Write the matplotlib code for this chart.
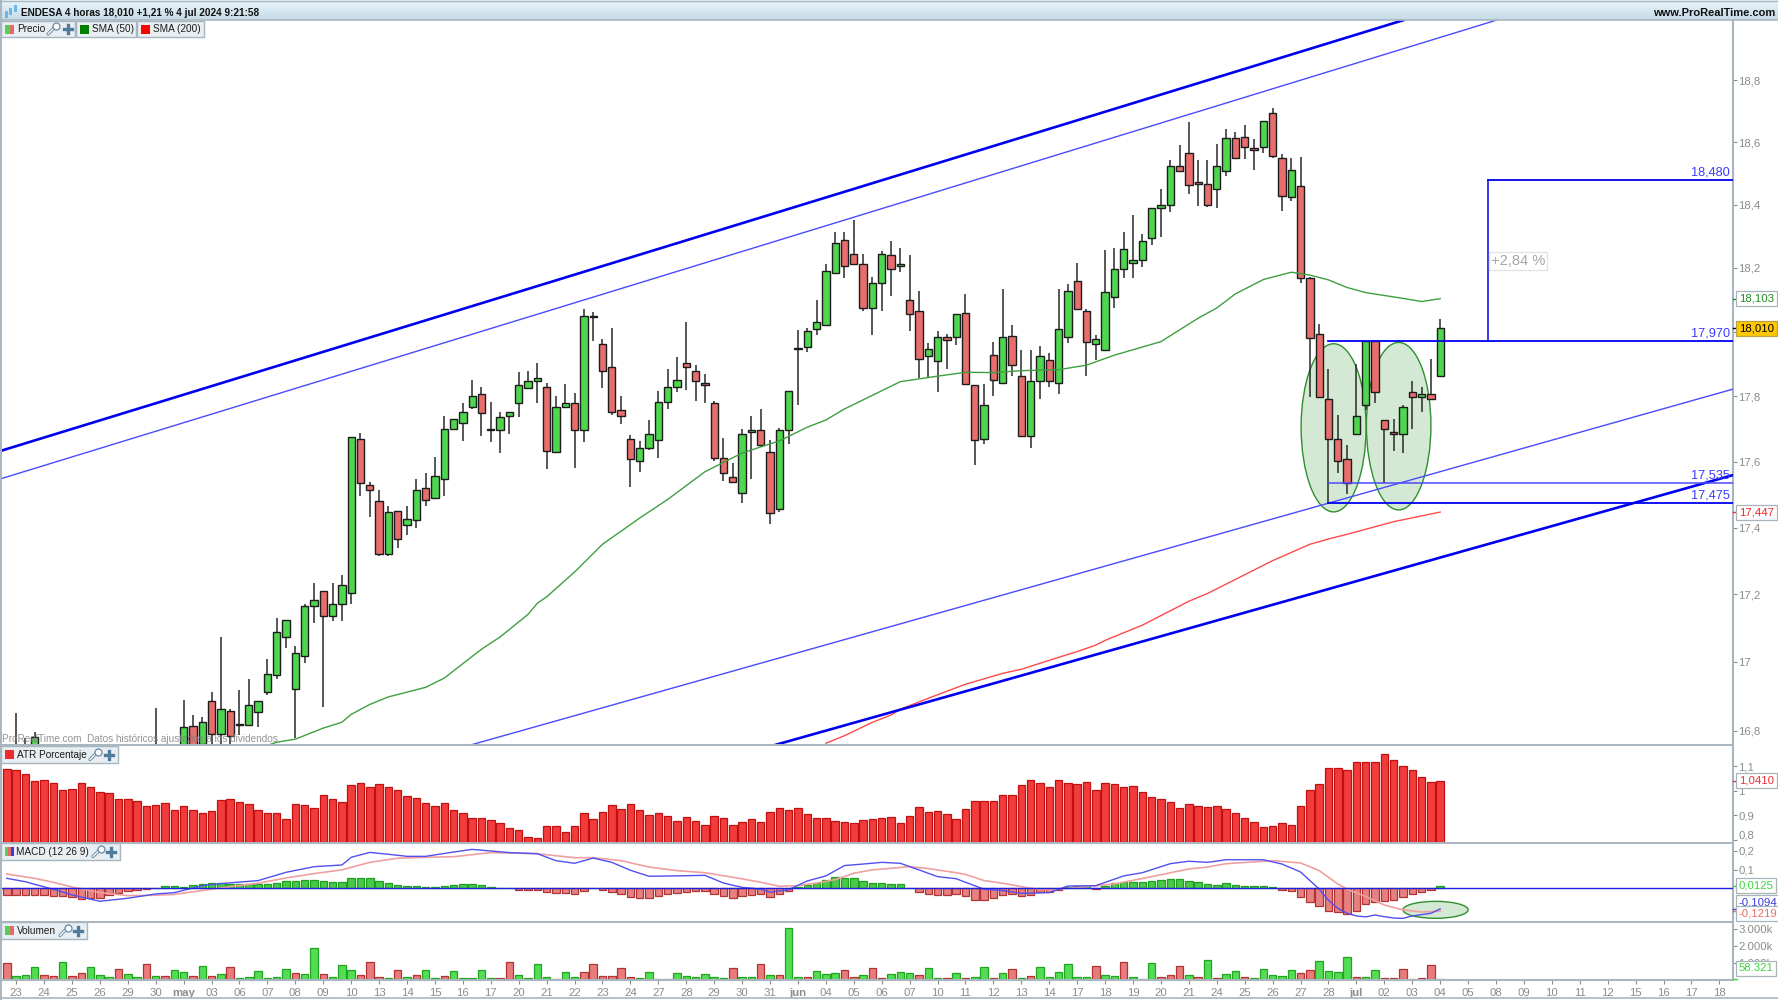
import numpy as np
import matplotlib
matplotlib.use('Agg')
import matplotlib.pyplot as plt
from matplotlib.patches import Ellipse, Rectangle
from matplotlib.ticker import NullLocator, NullFormatter

plt.rcParams['font.family'] = ['Liberation Sans', 'DejaVu Sans']

# candles, one per 4h bar (bars 0-18 sit below the visible range)
opens = [16.66, 16.60, 16.66, 16.70, 16.72, 16.66, 16.58, 16.70, 16.63, 16.56,
         16.66, 16.68, 16.69, 16.60, 16.64, 16.68, 16.55, 16.66, 16.60, 16.70,
         16.813, 16.76, 16.886, 16.791, 16.857, 16.82, 16.815, 16.855, 16.911, 16.961,
         17.073, 16.922, 17.018, 17.165, 17.209, 17.136, 17.173, 17.205, 17.670, 17.529,
         17.481, 17.321, 17.451, 17.409, 17.424, 17.521, 17.491, 17.548, 17.698, 17.718,
         17.766, 17.807, 17.70, 17.696, 17.738, 17.778, 17.825, 17.847, 17.829, 17.63,
         17.766, 17.778, 17.696, 18.045, 17.962, 17.889, 17.758, 17.67, 17.603, 17.642,
         17.665, 17.781, 17.83, 17.904, 17.879, 17.84, 17.778, 17.611, 17.554, 17.505,
         17.69, 17.696, 17.628, 17.456, 17.696, 17.945, 17.953, 18.008, 18.02, 18.183,
         18.287, 18.243, 18.211, 18.075, 18.153, 18.24, 18.205, 18.098, 18.065, 17.924,
         17.91, 17.983, 17.983, 18.059, 17.836, 17.67, 17.926, 17.842, 17.988, 17.863,
         17.679, 17.847, 17.913, 17.842, 17.983, 18.159, 18.065, 17.962, 17.942, 18.109,
         18.195, 18.214, 18.225, 18.293, 18.39, 18.399, 18.524, 18.564, 18.473, 18.467,
         18.449, 18.508, 18.614, 18.615, 18.58, 18.585, 18.693, 18.55, 18.425, 18.46,
         18.167, 17.993, 17.792, 17.668, 17.609, 17.683, 17.772, 17.97, 17.727, 17.69,
         17.683, 17.813, 17.799, 17.807, 17.862]
highs = [16.70, 16.85, 16.778, 16.796, 16.74, 16.70, 16.73, 16.72, 16.66, 16.70,
         16.72, 16.72, 16.71, 16.68, 16.70, 16.70, 16.865, 16.70, 16.72, 16.888,
         16.844, 16.84, 16.912, 17.073, 16.864, 16.917, 16.949, 16.886, 17.01, 17.131,
         17.124, 17.048, 17.173, 17.235, 17.209, 17.235, 17.257, 17.676, 17.686, 17.538,
         17.515, 17.466, 17.451, 17.466, 17.548, 17.564, 17.613, 17.739, 17.73, 17.778,
         17.85, 17.827, 17.782, 17.751, 17.752, 17.875, 17.879, 17.904, 17.842, 17.801,
         17.837, 17.809, 18.07, 18.061, 17.976, 18.012, 17.801, 17.68, 17.663, 17.727,
         17.816, 17.885, 17.92, 18.031, 17.896, 17.87, 17.786, 17.671, 17.595, 17.699,
         17.739, 17.762, 17.666, 17.702, 17.815, 18.004, 18.011, 18.099, 18.211, 18.314,
         18.314, 18.351, 18.243, 18.17, 18.254, 18.283, 18.261, 18.24, 18.128, 17.964,
         18.003, 17.992, 18.054, 18.119, 17.836, 17.837, 17.968, 18.134, 18.02, 17.943,
         17.943, 17.955, 17.935, 18.134, 18.148, 18.215, 18.07, 17.99, 18.256, 18.261,
         18.314, 18.366, 18.306, 18.39, 18.45, 18.542, 18.592, 18.664, 18.542, 18.542,
         18.595, 18.643, 18.633, 18.655, 18.609, 18.669, 18.709, 18.561, 18.55, 18.553,
         18.171, 18.024, 17.883, 17.742, 17.65, 17.9, 17.97, 17.97, 17.727, 17.729,
         17.772, 17.848, 17.827, 17.914, 18.039]
lows = [16.58, 16.55, 16.62, 16.66, 16.64, 16.60, 16.55, 16.60, 16.55, 16.54,
        16.63, 16.65, 16.60, 16.58, 16.62, 16.54, 16.52, 16.60, 16.58, 16.66,
        16.70, 16.74, 16.757, 16.757, 16.757, 16.786, 16.815, 16.809, 16.903, 16.949,
        17.042, 16.777, 16.996, 17.116, 16.868, 17.122, 17.122, 17.173, 17.495, 17.431,
        17.316, 17.316, 17.34, 17.379, 17.398, 17.465, 17.491, 17.495, 17.698, 17.663,
        17.761, 17.679, 17.66, 17.627, 17.684, 17.737, 17.821, 17.78, 17.576, 17.628,
        17.766, 17.582, 17.66, 17.972, 17.826, 17.742, 17.714, 17.523, 17.569, 17.635,
        17.61, 17.76, 17.814, 17.819, 17.786, 17.778, 17.602, 17.541, 17.535, 17.474,
        17.548, 17.644, 17.411, 17.447, 17.655, 17.772, 17.938, 17.99, 18.02, 18.183,
        18.169, 18.211, 18.065, 17.99, 18.065, 18.112, 18.188, 18.003, 17.855, 17.855,
        17.812, 17.884, 17.959, 17.837, 17.589, 17.655, 17.801, 17.837, 17.863, 17.679,
        17.642, 17.791, 17.829, 17.806, 17.966, 18.07, 17.863, 17.912, 17.942, 18.073,
        18.169, 18.167, 18.204, 18.272, 18.298, 18.375, 18.508, 18.433, 18.396, 18.393,
        18.389, 18.492, 18.55, 18.545, 18.51, 18.564, 18.548, 18.381, 18.41, 18.153,
        17.798, 17.798, 17.475, 17.564, 17.503, 17.683, 17.757, 17.778, 17.534, 17.633,
        17.627, 17.7, 17.752, 17.793, 17.862]
closes = [16.60, 16.68, 16.71, 16.782, 16.66, 16.62, 16.70, 16.63, 16.58, 16.68,
          16.70, 16.69, 16.62, 16.66, 16.68, 16.57, 16.66, 16.62, 16.70, 16.809,
          16.72, 16.825, 16.791, 16.863, 16.784, 16.815, 16.873, 16.886, 16.965, 17.088,
          17.124, 17.028, 17.167, 17.185, 17.136, 17.173, 17.229, 17.676, 17.535, 17.515,
          17.32, 17.448, 17.365, 17.427, 17.515, 17.482, 17.557, 17.698, 17.73, 17.752,
          17.801, 17.75, 17.695, 17.737, 17.752, 17.835, 17.847, 17.855, 17.631, 17.766,
          17.778, 17.696, 18.049, 18.05, 17.879, 17.753, 17.738, 17.607, 17.642, 17.684,
          17.781, 17.829, 17.849, 17.889, 17.847, 17.835, 17.612, 17.564, 17.538, 17.684,
          17.695, 17.65, 17.444, 17.696, 17.815, 17.95, 18.003, 18.031, 18.191, 18.277,
          18.206, 18.211, 18.075, 18.153, 18.242, 18.196, 18.211, 18.054, 17.914, 17.947,
          17.983, 17.973, 18.054, 17.837, 17.665, 17.772, 17.85, 17.983, 17.895, 17.679,
          17.847, 17.924, 17.847, 18.008, 18.126, 18.07, 17.968, 17.976, 18.124, 18.195,
          18.26, 18.225, 18.284, 18.39, 18.40, 18.522, 18.508, 18.464, 18.467, 18.399,
          18.522, 18.614, 18.55, 18.585, 18.575, 18.669, 18.556, 18.428, 18.51, 18.167,
          17.981, 17.798, 17.668, 17.603, 17.534, 17.739, 17.97, 17.813, 17.701, 17.685,
          17.767, 17.799, 17.807, 17.793, 18.01]

# moving averages, bar index and value where they were read
sma50_idx = [28, 29, 31, 34, 36, 37, 39, 41, 45, 47, 51, 53, 56, 57, 58, 61, 64, 68, 71, 75,
             79, 82, 83, 86, 88, 90, 96, 100, 103, 106, 109, 113, 116, 119, 124, 128, 130,
             132, 135, 138, 140, 142, 144, 146, 150, 152, 154]
sma50 = [16.757, 16.766, 16.775, 16.807, 16.824, 16.847, 16.876, 16.898, 16.926, 16.953,
         17.038, 17.074, 17.141, 17.174, 17.193, 17.267, 17.35, 17.429, 17.485, 17.569,
         17.626, 17.654, 17.663, 17.705, 17.727, 17.761, 17.845, 17.862, 17.874, 17.873,
         17.879, 17.882, 17.896, 17.927, 17.969, 18.042, 18.074, 18.118, 18.163, 18.186,
         18.177, 18.162, 18.138, 18.122, 18.104, 18.094, 18.103]
sma200_idx = [88, 90, 93, 95, 96, 99, 103, 107, 109, 113, 115, 117, 118, 122, 127, 129, 136,
              140, 142, 144, 149, 154]
sma200 = [16.763, 16.785, 16.824, 16.845, 16.862, 16.894, 16.935, 16.967, 16.979, 17.014,
          17.031, 17.05, 17.064, 17.109, 17.18, 17.203, 17.301, 17.35, 17.366, 17.38,
          17.418, 17.447]

atr = [1.089, 1.085, 1.070, 1.041, 1.045, 1.033, 1.005, 1.009, 1.030, 1.014,
       .995, .992, .965, .965, .957, .938, .942, .950, .924, .938,
       .924, .908, .916, .961, .965, .954, .946, .920, .908, .908,
       .886, .946, .942, .931, .984, .965, .954, 1.022, 1.033, 1.014,
       1.028, 1.014, 1.003, .980, .969, .950, .938, .950, .924, .908,
       .890, .890, .882, .871, .848, .840, .814, .810, .855, .855,
       .833, .855, .908, .886, .912, .944, .928, .946, .923, .901,
       .908, .897, .878, .894, .878, .863, .897, .889, .863, .874,
       .886, .874, .912, .931, .923, .931, .904, .889, .889, .878,
       .874, .870, .882, .886, .889, .893, .870, .897, .935, .915,
       .919, .904, .885, .928, .958, .958, .958, .984, .984, 1.022,
       1.043, 1.033, 1.014, 1.043, 1.033, 1.026, 1.037, 1.005, 1.033, 1.028,
       1.014, 1.018, .995, .973, .965, .953, .931, .946, .939, .935,
       .939, .928, .908, .889, .874, .851, .859, .871, .863, .938,
       1.002, 1.026, 1.092, 1.092, 1.085, 1.119, 1.115, 1.119, 1.149, 1.124,
       1.100, 1.085, 1.056, 1.037, 1.041]

macd_hist = [-.035, -.035, -.035, -.035, -.035, -.041, -.041, -.044, -.055, -.05,
             -.05, -.035, -.023, -.016, -.009, -.004, .002, .011, .011, .007,
             .018, .023, .028, .028, .025, .023, .021, .021, .023, .03,
             .037, .041, .043, .043, .037, .032, .032, .055, .055, .055,
             .037, .027, .018, .012, .012, .007, .007, .012, .016, .021,
             .021, .016, .007, 0, 0, -.007, -.007, -.007, -.021, -.027,
             -.027, -.032, -.016, 0, -.011, -.02, -.03, -.044, -.05, -.05,
             -.039, -.028, -.025, -.018, -.016, -.016, -.028, -.039, -.05, -.039,
             -.035, -.028, -.044, -.03, -.016, .005, .02, .03, .046, .059,
             .055, .055, .041, .03, .03, .025, .021, 0, -.02, -.03,
             -.035, -.035, -.03, -.039, -.06, -.06, -.05, -.035, -.03, -.041,
             -.035, -.021, -.021, -.011, .009, .014, .014, -.005, .014, .027,
             .035, .035, .035, .041, .044, .05, .05, .041, .035, .025,
             .02, .027, .02, .014, .011, .011, .005, -.011, -.016, -.046,
             -.071, -.096, -.119, -.128, -.137, -.119, -.085, -.074, -.066, -.06,
             -.046, -.03, -.021, -.011, .0125]
macd_idx = [0, 2, 3, 5, 7, 10, 13, 16, 18, 21, 23, 27, 30, 33, 36, 37, 39, 41, 43, 45, 48, 50,
            54, 57, 59, 61, 63, 65, 67, 69, 72, 75, 77, 79, 81, 82, 84, 86, 88, 90, 92, 94, 96,
            98, 100, 102, 103, 105, 107, 109, 112, 114, 117, 120, 122, 125, 127, 129, 131, 135,
            137, 139, 141, 142, 143, 144, 145, 146, 147, 148, 149, 150, 151, 152, 153, 154]
macd_line = [.053, .035, .021, -.005, -.035, -.069, -.053, -.03, -.023, .014, .025, .041, .085,
             .115, .124, .165, .191, .181, .17, .17, .193, .207, .19, .184, .147, .133, .161,
             .138, .096, .064, .066, .069, .028, .005, -.004, -.021, -.007, .039, .066, .121,
             .129, .138, .133, .098, .062, .051, .032, -.005, -.012, -.027, -.023, .012, .014,
             .066, .083, .131, .144, .138, .152, .152, .129, .087, -.004, -.064, -.106, -.133,
             -.147, -.152, -.142, -.151, -.158, -.16, -.147, -.14, -.133, -.1094]
signal_idx = [0, 3, 5, 7, 10, 13, 16, 18, 21, 24, 27, 30, 33, 36, 39, 42, 45, 48, 52, 57, 61, 63,
              66, 69, 72, 75, 78, 81, 83, 85, 87, 89, 91, 93, 97, 99, 102, 103, 105, 107, 110, 112,
              115, 119, 123, 127, 129, 131, 136, 139, 141, 143, 144, 146, 148, 150, 152, 154]
signal_line = [.076, .053, .032, .007, -.023, -.039, -.037, -.032, -.012, .009, .027, .055, .078,
               .098, .138, .16, .165, .168, .19, .184, .163, .163, .147, .113, .094, .083, .059,
               .032, .011, .014, .028, .046, .08, .098, .115, .105, .083, .074, .041, .027, 0,
               -.009, .004, .023, .062, .103, .113, .131, .147, .135, .094, .023, -.004, -.044,
               -.089, -.115, -.126, -.1219]

volume = [980, 235, 275, 765, 275, 235, 1040, 235, 390, 765,
          275, 175, 665, 335, 175, 940, 235, 235, 570, 450,
          235, 825, 235, 335, 765, 120, 175, 510, 120, 175,
          665, 390, 335, 1860, 335, 175, 885, 570, 275, 1040,
          175, 120, 610, 175, 275, 610, 120, 215, 510, 120,
          120, 610, 120, 120, 1040, 275, 120, 940, 175, 40,
          490, 157, 490, 920, 215, 215, 705, 157, 100, 490,
          78, 59, 392, 215, 157, 372, 157, 98, 705, 157,
          157, 920, 275, 275, 3060, 157, 157, 550, 333, 430,
          608, 157, 275, 705, 98, 333, 450, 392, 275, 705,
          98, 98, 392, 98, 157, 764, 98, 392, 647, 98,
          215, 764, 157, 490, 920, 157, 157, 823, 275, 215,
          1040, 157, 59, 980, 157, 275, 823, 275, 157, 1156,
          98, 333, 549, 157, 98, 647, 275, 215, 608, 392,
          608, 1098, 549, 470, 1370, 157, 157, 568, 118, 118,
          666, 59, 118, 882, 58.321]
vol_colors = ('rgggrrgrrg' 'ggrggrgrgg' 'rgrgrggggg' 'grgg' 'rggg' 'rrrgr' 'grggr' 'gggggrrggg'
              'grggrrrrrr' 'ggrrggggggr' 'ggrgrgg')

# x axis: one label every 3 bars, starting at bar 1
date_labels = ['23', '24', '25', '26', '29', '30', 'may', '03', '06', '07', '08', '09', '10',
               '13', '14', '15', '16', '17', '20', '21', '22', '23', '24', '27', '28', '29',
               '30', '31', 'jun', '04', '05', '06', '07', '10', '11', '12', '13', '14', '17',
               '18', '19', '20', '21', '24', '25', '26', '27', '28', 'jul', '02', '03', '04',
               '05', '08', '09', '10', '11', '12', '15', '16', '17', '18']
months = ['may', 'jun', 'jul']

price_ticks = [16.8, 17, 17.2, 17.4, 17.6, 17.8, 18, 18.2, 18.4, 18.6, 18.8]
price_tick_labels = ['16,8', '17', '17,2', '17,4', '17,6', '17,8', '', '18,2', '18,4', '18,6', '18,8']
atr_ticks = [0.8, 0.9, 1.0, 1.1]
atr_tick_labels = ['0,8', '0,9', '1', '1,1']
macd_ticks = [0.1, 0.2]
macd_tick_labels = ['0,1', '0,2']
vol_ticks = [1000, 2000, 3000]
vol_tick_labels = ['1.000k', '2.000k', '3.000k']

GREEN = '#4fd64f'
RED = '#e86e6e'
BLUE = '#0000f0'
LIGHT_BLUE = '#4a4aff'
GRAY = '#8c8c8c'
FRAME = '#a8b6bf'
n_bars = len(closes)
bars = np.arange(n_bars)
W, H = 1778, 1000
X_RIGHT = 1733


def panel(top, bottom, ylim, ticks, labels, log=False):
    ax = fig.add_axes([0, 1 - bottom / H, X_RIGHT / W, (bottom - top) / H])
    if log:
        ax.set_yscale('log')
    ax.set_xlim(-0.73, 185.46)
    ax.set_ylim(*ylim)
    ax.set_yticks(ticks, labels)
    ax.yaxis.set_minor_locator(NullLocator())
    ax.yaxis.set_minor_formatter(NullFormatter())
    ax.yaxis.tick_right()
    ax.tick_params(axis='y', length=3, width=0.8, color=GRAY, labelcolor=GRAY, labelsize=8.2, pad=1)
    ax.set_xticks([])
    for side in ['top', 'left', 'bottom']:
        ax.spines[side].set_visible(False)
    ax.spines['right'].set_color(FRAME)
    ax.spines['right'].set_linewidth(1.5)
    return ax


def value_box(ax, y, text, color, face='white', edge='#a9b4ba', label_y=None):
    # label_y moves the box when two values would sit on top of each other
    ax.text(1 + 6 / X_RIGHT, y if label_y is None else label_y, text, transform=ax.get_yaxis_transform(),
            ha='left', va='center', fontsize=8.2, color=color, clip_on=False, zorder=20,
            bbox=dict(boxstyle='square,pad=0.22', fc=face, ec=edge, lw=0.9))
    ax.plot([1, 1 + 4 / X_RIGHT], [y, y], transform=ax.get_yaxis_transform(), color=color, lw=1,
            clip_on=False, zorder=19)


fig = plt.figure(figsize=(W / 100, H / 100), dpi=100, facecolor='white')

# main panel
ax = panel(20, 745, (16.758, 18.997), price_ticks, price_tick_labels, log=True)
ax.vlines(bars, lows, highs, color='#2a2a2a', lw=1.1, zorder=3)
body_colors = [GREEN if c >= o else RED for o, c in zip(opens, closes)]
body_low = np.minimum(opens, closes)
body_high = np.maximum(opens, closes)
ax.bar(bars, body_high - body_low, bottom=body_low, width=0.78, color=body_colors,
       edgecolor='#1c1c1c', linewidth=1.0, zorder=4)
ax.plot(sma50_idx, sma50, color='#3f9f3f', lw=1.0, zorder=5)
ax.plot(sma200_idx, sma200, color='#ff4a4a', lw=1.0, zorder=5)

# hand drawn channel lines
ax.plot([-0.73, 150.1], [17.632, 18.997], color=BLUE, lw=1.9, zorder=6)
ax.plot([-0.73, 160.1], [17.547, 18.997], color=LIGHT_BLUE, lw=1.0, zorder=6)
ax.plot([49.7, 185.46], [16.757, 17.822], color=LIGHT_BLUE, lw=1.0, zorder=6)
ax.plot([82.4, 185.46], [16.757, 17.559], color=BLUE, lw=1.9, zorder=6)

# levels and target
ax.plot([142, 185.46], [17.97, 17.97], color=BLUE, lw=1.3, zorder=6)
ax.plot([159.1, 185.46], [18.48, 18.48], color=BLUE, lw=1.3, zorder=6)
ax.plot([159.1, 159.1], [17.97, 18.48], color=BLUE, lw=1.1, zorder=6)
ax.plot([142, 185.46], [17.535, 17.535], color=LIGHT_BLUE, lw=1.1, zorder=6)
ax.plot([142, 185.46], [17.475, 17.475], color=BLUE, lw=1.3, zorder=6)
for level, label in zip([18.48, 17.97, 17.535, 17.475], ['18,480', '17,970', '17,535', '17,475']):
    ax.annotate(label, (185.1, level), xytext=(0, 1), textcoords='offset points', ha='right',
                va='bottom', color='#3a3aff', fontsize=9.2, zorder=7)
ax.text(162.4, 18.222, '+2,84 %', color='#a6a6a6', fontsize=10.6, ha='center', va='center', zorder=7,
        bbox=dict(boxstyle='square,pad=0.12', fc='white', ec='#e2e2e2', lw=0.9))

# green ellipses on the double bottom
for cx, cy, width, height in [(142.55, 17.705, 6.98, 0.515), (149.54, 17.71, 6.93, 0.513)]:
    ax.add_patch(Ellipse((cx, cy), width, height, fc=(0.0, 0.5, 0.0, 0.17), ec='#2f8f2f', lw=1.0, zorder=2))

value_box(ax, 18.103, '18,103', '#1e8a1e')
value_box(ax, 18.01, '18,010', 'black', face='#ffc800', edge='#b9a24a')
value_box(ax, 17.447, '17,447', '#ff2020')

# ATR panel
ax_atr = panel(745.5, 842, (0.792, 1.184), atr_ticks, atr_tick_labels)
ax_atr.bar(bars, np.array(atr) - 0.792, bottom=0.792, width=0.8, color='#f23c3c', edgecolor='#c20f0f', linewidth=0.9)
ax_atr.get_yticklabels()[0].set_va('bottom')
value_box(ax_atr, 1.041, '1,0410', '#f03030')

# MACD panel
ax_macd = panel(843, 921.5, (-0.1766, 0.241), macd_ticks, macd_tick_labels)
hist_colors = ['#49c949' if v >= 0 else '#e88080' for v in macd_hist]
hist_edges = ['#1f9f1f' if v >= 0 else '#b03434' for v in macd_hist]
ax_macd.bar(bars, macd_hist, width=0.8, color=hist_colors, edgecolor=hist_edges, linewidth=0.9)
ax_macd.plot(signal_idx, signal_line, color='#f0a0a0', lw=1.2, zorder=4)
ax_macd.plot(macd_idx, macd_line, color='#5050f0', lw=1.0, zorder=5)
ax_macd.axhline(0, color='#2020e0', lw=1.0, zorder=6)
ax_macd.add_patch(Ellipse((153.5, -0.1145), 7, 0.09, fc=(0.0, 0.5, 0.0, 0.17), ec='#2f8f2f', lw=1.0, zorder=3))
value_box(ax_macd, 0.0125, '0,0125', '#39d639')
value_box(ax_macd, -0.1094, '-0,1094', '#3a3ae0', label_y=-0.078)
value_box(ax_macd, -0.1219, '-0,1219', '#ee6a6a', label_y=-0.135)

# volume panel with the date axis
ax_vol = panel(922, 980, (0, 3412), vol_ticks, vol_tick_labels)
v_face = ['#55dc55' if c == 'g' else '#e87c7c' for c in vol_colors]
v_edge = ['#1fa51f' if c == 'g' else '#b03434' for c in vol_colors]
ax_vol.bar(bars, volume, width=0.8, color=v_face, edgecolor=v_edge, linewidth=0.9)
value_box(ax_vol, 58.321, '58.321', '#39d639', label_y=700)
ax_vol.set_xticks(1 + 3 * np.arange(len(date_labels)), date_labels)
ax_vol.tick_params(axis='x', length=3, width=0.8, color=GRAY, labelcolor=GRAY, labelsize=8.2, pad=3)
for lab in ax_vol.get_xticklabels():
    if lab.get_text() in months:
        lab.set_fontweight('bold')
ax_vol.spines['bottom'].set_visible(True)
ax_vol.spines['bottom'].set_color(FRAME)
ax_vol.spines['bottom'].set_linewidth(1.5)

# window chrome on a pixel overlay
ov = fig.add_axes([0, 0, 1, 1], zorder=30)
ov.patch.set_alpha(0)
ov.axis('off')
ov.imshow(np.linspace(0, 1, 20).reshape(-1, 1), extent=(0, W, 20, 0), aspect='auto', zorder=1,
          cmap=matplotlib.colors.LinearSegmentedColormap.from_list('hdr', ['#e9f5fb', '#c6dbe6']))
ov.set_xlim(0, W)
ov.set_ylim(H, 0)
ov.plot([0, W], [19.5, 19.5], color=FRAME, lw=1.2)
ov.plot([0, W], [0.5, 0.5], color=FRAME, lw=1)
ov.plot([0.5, 0.5], [0, H], color=FRAME, lw=1.4)
ov.plot([0, W], [998, 998], color=FRAME, lw=1.2)
for y in [745, 842.5, 921.7]:
    ov.plot([0, X_RIGHT], [y, y], color=FRAME, lw=1.4)
ov.text(21, 12.5, 'ENDESA 4 horas 18,010 +1,21 % 4 jul 2024 9:21:58', fontsize=7.2, fontweight='bold',
        ha='left', va='center', color='#111111')
ov.text(1775, 12.5, 'www.ProRealTime.com', fontsize=8.0, fontweight='bold', ha='right', va='center', color='#111111')
for x, y0, y1 in [(6, 11, 18), (10.5, 8, 15), (15, 5, 12)]:
    ov.add_patch(Rectangle((x - 1.5, y0), 3, y1 - y0, fc='#6ab7e8', ec='none'))


def tag(x0, x1, y0, y1, text, text_x, swatches, tools_x=None):
    ov.add_patch(Rectangle((x0, y0), x1 - x0, y1 - y0, fc='#e8eef2', ec=FRAME, lw=1))
    for sx, sw, col in swatches:
        ov.add_patch(Rectangle((sx, y0 + 4), sw, 9, fc=col, ec='none'))
    ov.text(text_x, (y0 + y1) / 2 + 0.5, text, fontsize=7.2, ha='left', va='center', color='#1a1a1a')
    if tools_x is not None:
        wx, px = tools_x
        ym = (y0 + y1) / 2
        ov.plot([wx, wx + 6], [ym + 5, ym - 1], color='#6f93ad', lw=2.4, solid_capstyle='round')
        ov.plot([wx, wx + 6], [ym + 5, ym - 1], color='white', lw=0.9, solid_capstyle='round')
        ov.plot([wx + 7.5], [ym - 3], marker='o', ms=5, mfc='white', mec='#6f93ad', mew=1)
        ov.plot([px - 4, px + 4], [ym, ym], color='#4f7c9c', lw=2.4)
        ov.plot([px, px], [ym - 4, ym + 4], color='#4f7c9c', lw=2.4)


tag(1, 75, 21, 37, 'Precio', 17, [(5, 4.5, '#55d055'), (9.5, 4.5, '#e86868')], (48, 67.5))
tag(76, 136, 21, 37, 'SMA (50)', 92, [(80, 9, '#008000')])
tag(137, 204, 21, 37, 'SMA (200)', 153, [(141, 9, '#ff0000')])
tag(1, 118, 746, 763, 'ATR Porcentaje', 17, [(5, 9, '#f02a2a')], (90, 109))
tag(1, 120, 843, 860, 'MACD (12 26 9)', 16, [(5, 3, '#55d055'), (8, 3, '#e86868'), (11, 3, '#3a3ae0')], (93, 111))
tag(1, 87, 922, 939, 'Volumen', 17, [(5, 4.5, '#55d055'), (9.5, 4.5, '#e86868')], (60, 78))
ov.text(2, 739, 'ProRealTime.com  Datos históricos ajustados a los dividendos', fontsize=7.2,
        color='#808080', alpha=0.85, ha='left', va='center')

fig.savefig('out.png', dpi=100)
